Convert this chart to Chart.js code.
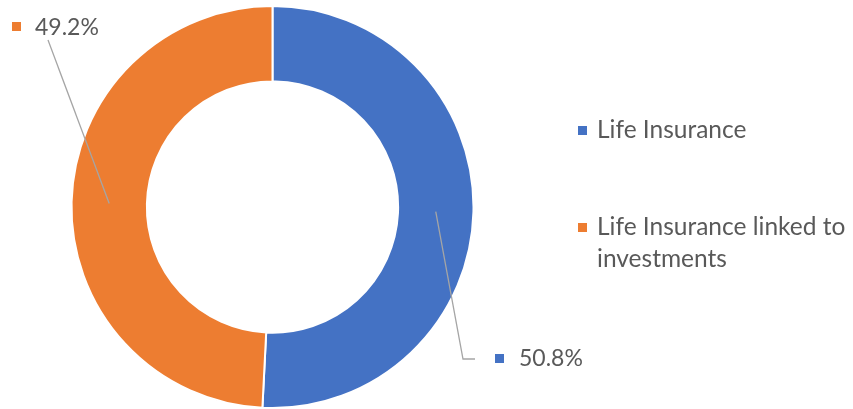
<!DOCTYPE html>
<html>
<head>
<meta charset="utf-8">
<script src="https://cdn.jsdelivr.net/npm/chart.js@4"></script>
<style>
  html, body { margin: 0; padding: 0; background: #fff; }
  #wrap { width: 853px; height: 409px; }
</style>
</head>
<body>
<div id="wrap"><canvas id="donut"></canvas></div>
<script>
const categories = ["Life Insurance", "Life Insurance linked to investments"];
const shares = [50.8, 49.2];
const colors = ["#4472C4", "#ED7D31"];

const FONT = "Lato, 'Liberation Sans', sans-serif";
const TEXT = "#595959";

// where the data labels sit (baseline) and the angle the leader leaves the ring (deg)
const labelSpots = [
  { x: 519, y: 366, box: [495, 354], leaderAngle: 1.6, elbow: [463, 359], end: [475, 359] },
  { x: 35, y: 35, box: [12, 22], leaderAngle: 181.2, elbow: null, end: [48, 40] }
];

const labelsPlugin = {
  id: "donutLabels",
  afterDatasetsDraw(chart) {
    const ctx = chart.ctx;
    const meta = chart.getDatasetMeta(0);
    meta.data.forEach((arc, i) => {
      const p = arc.getProps(["x", "y", "innerRadius", "outerRadius"], true);
      const spot = labelSpots[i];
      const mid = (p.innerRadius + p.outerRadius) / 2;
      const a = spot.leaderAngle * Math.PI / 180;
      const sx = p.x + Math.cos(a) * mid;
      const sy = p.y + Math.sin(a) * mid;
      ctx.save();
      ctx.strokeStyle = "#A5A5A5";
      ctx.lineWidth = 1.3;
      ctx.beginPath();
      ctx.moveTo(sx, sy);
      if (spot.elbow) ctx.lineTo(spot.elbow[0], spot.elbow[1]);
      ctx.lineTo(spot.end[0], spot.end[1]);
      ctx.stroke();
      ctx.fillStyle = colors[i];
      ctx.fillRect(spot.box[0], spot.box[1], 9, 9);
      ctx.fillStyle = TEXT;
      ctx.font = "23px " + FONT;
      ctx.textBaseline = "alphabetic";
      ctx.fillText(chart.data.datasets[0].data[i].toFixed(1) + "%", spot.x, spot.y);
      ctx.restore();
    });
  }
};

// legend on the right, second entry wraps onto two lines
const legendLines = [["Life Insurance"], ["Life Insurance linked to", "investments"]];
const legendPlugin = {
  id: "sideLegend",
  afterDraw(chart) {
    const ctx = chart.ctx;
    const rows = [138, 235];
    ctx.save();
    ctx.font = "24.5px " + FONT;
    ctx.textBaseline = "alphabetic";
    legendLines.forEach((lines, i) => {
      ctx.fillStyle = chart.data.datasets[0].backgroundColor[i];
      ctx.fillRect(578, rows[i] - 12, 9, 9);
      ctx.fillStyle = TEXT;
      lines.forEach((t, j) => ctx.fillText(t, 597, rows[i] + j * 31.5));
    });
    ctx.restore();
  }
};

new Chart(document.getElementById("donut"), {
  type: "doughnut",
  data: {
    labels: categories,
    datasets: [{
      data: shares,
      backgroundColor: colors,
      borderColor: "#ffffff",
      borderWidth: 2
    }]
  },
  options: {
    responsive: true,
    maintainAspectRatio: false,
    animation: false,
    cutout: "62.5%",
    layout: { padding: { left: 69, right: 377, top: 5, bottom: -3 } },
    plugins: {
      legend: { display: false },
      tooltip: { enabled: false }
    }
  },
  plugins: [labelsPlugin, legendPlugin]
});
</script>
</body>
</html>
